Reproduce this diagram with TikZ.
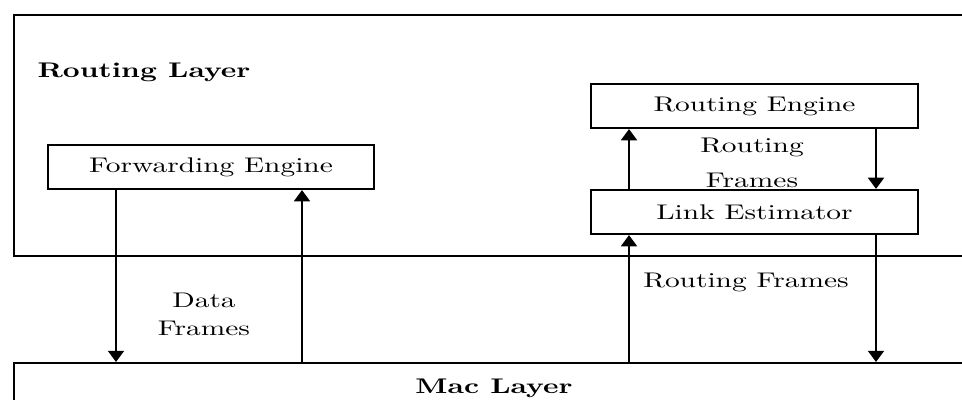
\documentclass[tikz,border=0pt]{standalone}
\usetikzlibrary{arrows.meta}
% text in this figure is set slightly compressed vertically
\newcommand{\vsq}[1]{\scalebox{1}[0.72]{#1}}
\tikzset{
  line/.style={line width=0.7pt},
  layerbox/.style={line, draw, rectangle, inner sep=0pt, anchor=north west,
                   minimum width=339pt},
  unitbox/.style={line, draw, rectangle, inner sep=0pt,
                  minimum width=111pt, minimum height=15pt},
  lbl/.style={inner sep=0pt, align=center},
  arr/.style={line, -{Triangle[width=5.4pt,length=3.8pt]}}
}
\begin{document}
\begin{tikzpicture}[x=0.34pt,y=-0.34pt]
  \useasboundingbox (0,0) rectangle (962,399);
  \clip (0,0) rectangle (962,399);

  % the two layers (both run off the right edge)
  \node[layerbox, minimum height=82pt] (routing) at (13,14) {};
  \node[layerbox, minimum height=25pt] (mac) at (13,362) {};
  \node[lbl, anchor=west] (rtitle) at (37,72) {\vsq{\bfseries Routing Layer}};
  \node[lbl] (mtitle) at (494,388) {\vsq{\bfseries Mac Layer}};

  % components
  \node[unitbox] (fwd)  at (211,167)   {\vsq{Forwarding Engine}};
  \node[unitbox] (reng) at (754.5,106) {\vsq{Routing Engine}};
  \node[unitbox] (link) at (754.5,212) {\vsq{Link Estimator}};

  % arrow columns
  \coordinate (xa) at (116,0);
  \coordinate (xb) at (302,0);
  \coordinate (xc) at (629,0);
  \coordinate (xd) at (876,0);

  \draw[arr] (fwd.south -| xa) -- (mac.north -| xa);
  \draw[arr] (mac.north -| xb) -- (fwd.south -| xb);
  \draw[arr] (link.north -| xc) -- (reng.south -| xc);
  \draw[arr] (reng.south -| xd) -- (link.north -| xd);
  \draw[arr] (mac.north -| xc) -- (link.south -| xc);
  \draw[arr] (link.south -| xd) -- (mac.north -| xd);

  % flow labels
  \node[lbl] (dfr) at (204,314.5) {\vsq{Data}\\[-2.5pt]\vsq{Frames}};
  \node[lbl] (rfr) at (752,163) {\vsq{Routing}\\\vsq{Frames}};
  \node[lbl] (rfm) at (746,282) {\vsq{Routing Frames}};
\end{tikzpicture}
\end{document}
